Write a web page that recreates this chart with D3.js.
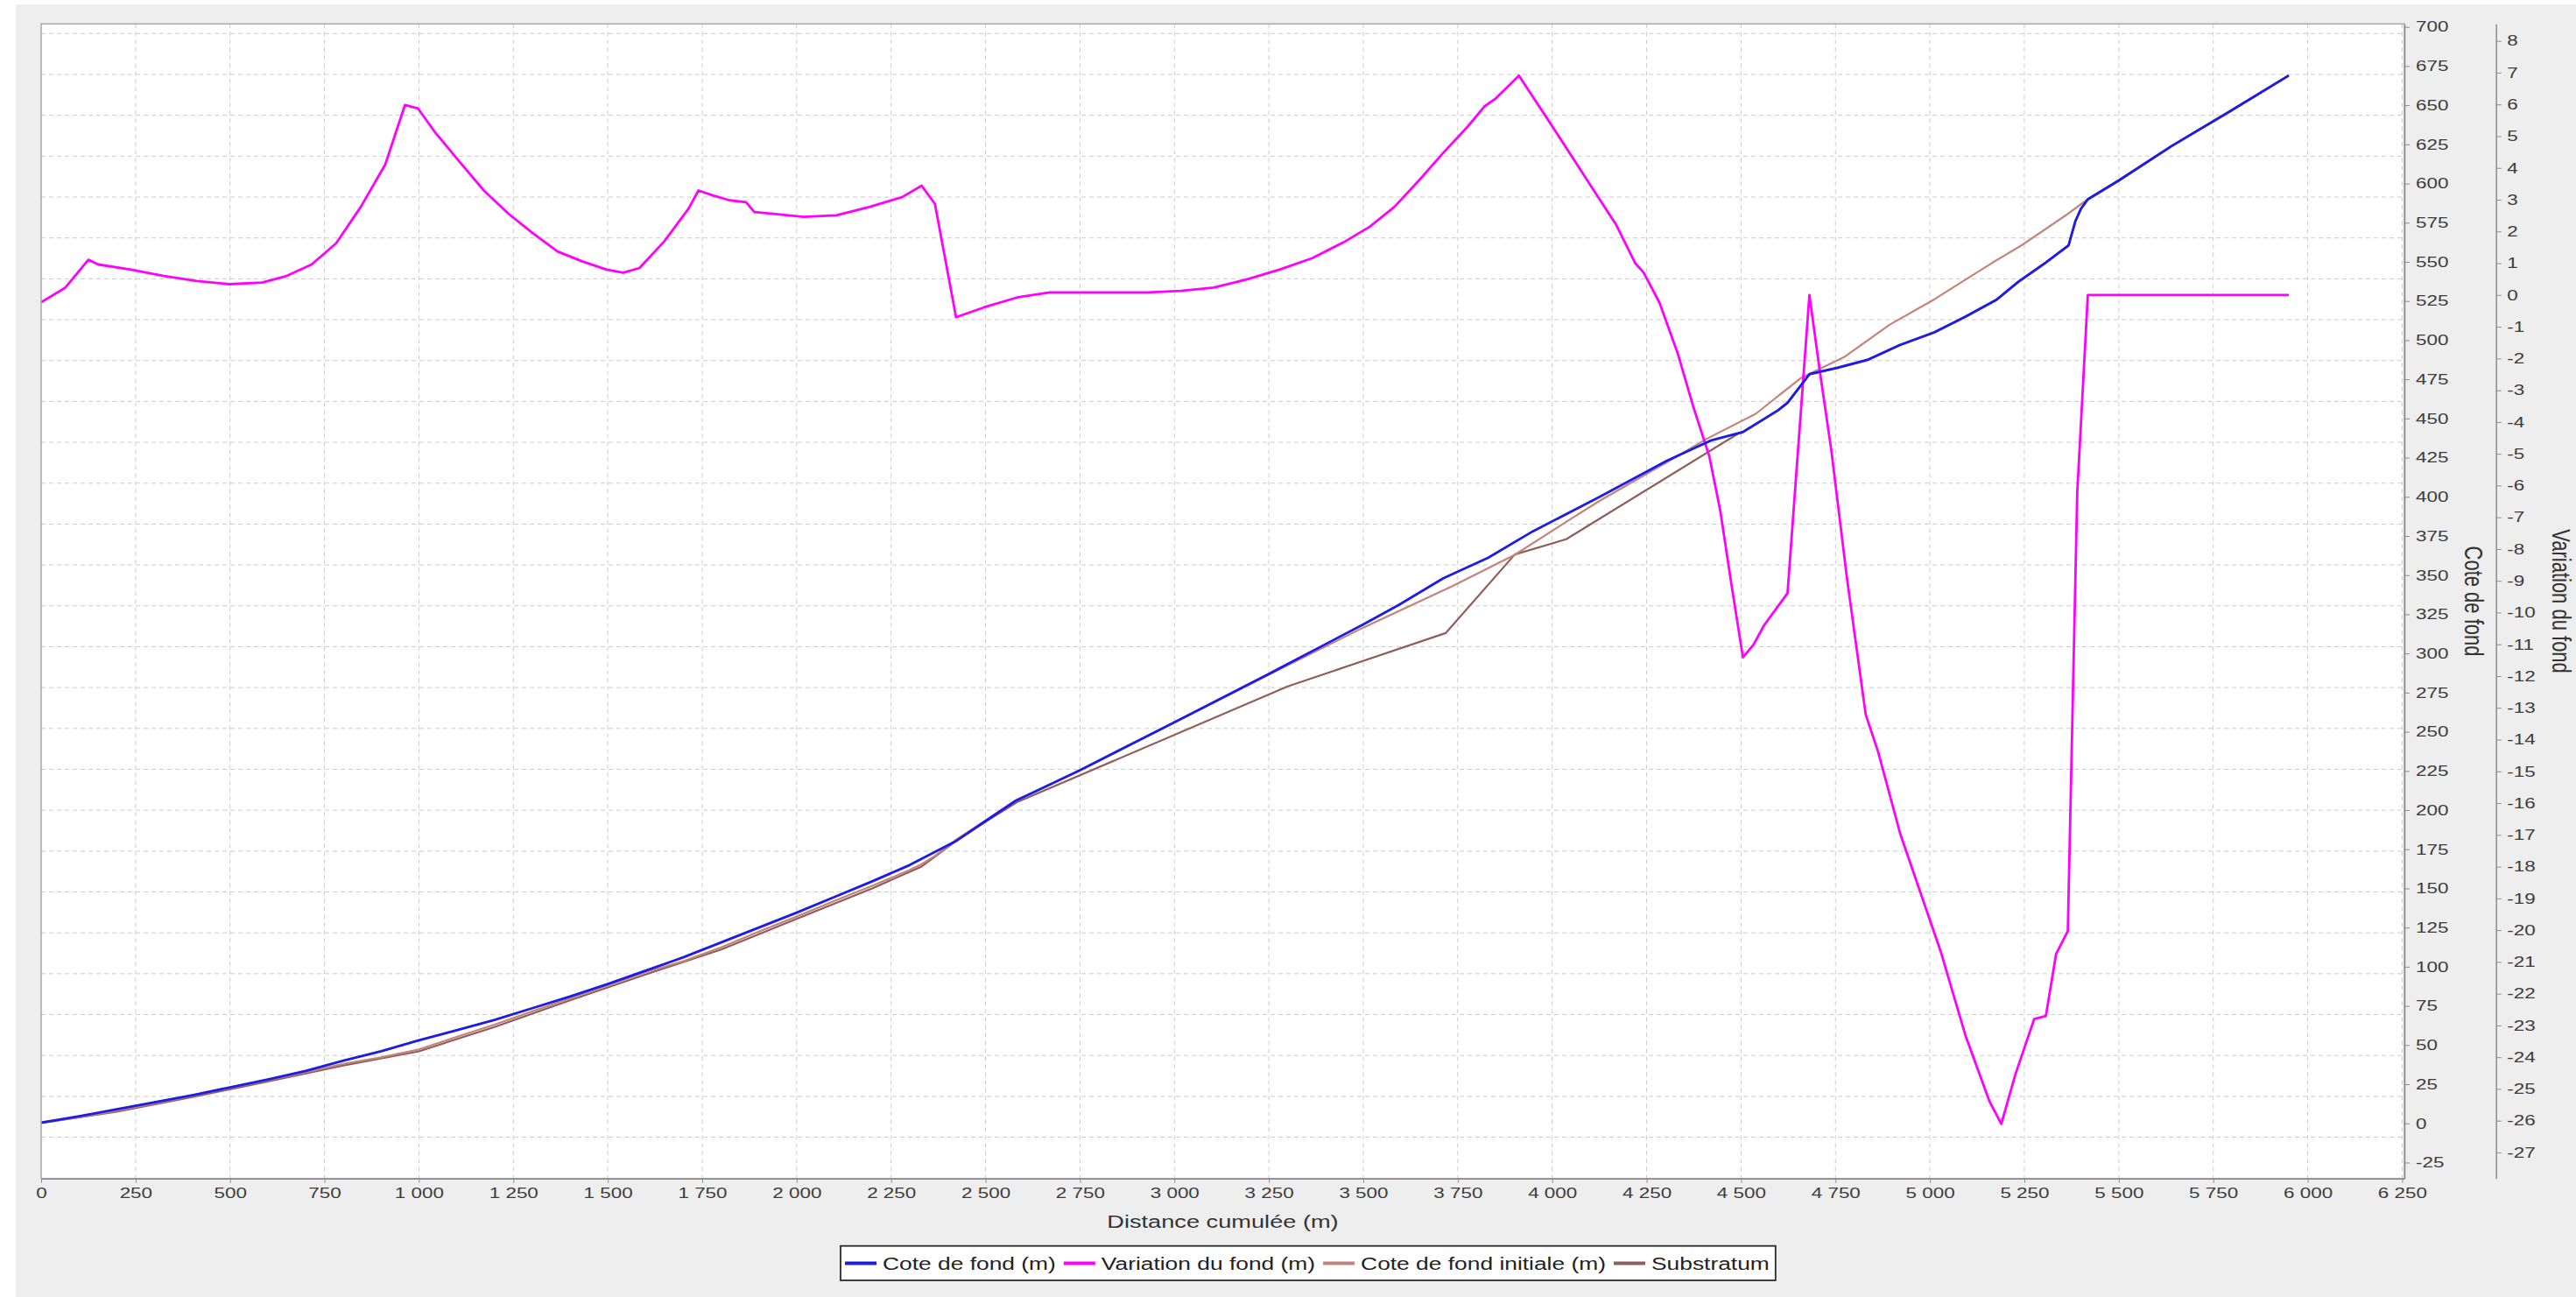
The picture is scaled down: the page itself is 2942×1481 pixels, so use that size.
<!DOCTYPE html>
<html>
<head>
<meta charset="utf-8">
<script src="https://cdn.jsdelivr.net/npm/d3@7"></script>
<style>
  html, body { margin: 0; padding: 0; background: #fff; }
  svg { display: block; font-family: "Liberation Sans", Arial, sans-serif; }
</style>
</head>
<body>
<svg id="chart"></svg>
<script>
// Profil en long : [distance cumulée (m), valeur]
const coteDeFond = [
  [0, 0.5], [100, 4.5], [200, 9], [300, 13.5], [400, 18], [500, 23], [600, 28], [700, 33.5],
  [800, 40], [900, 46], [1000, 53], [1100, 59.5], [1200, 66], [1300, 73.5], [1400, 81],
  [1500, 89], [1600, 97.5], [1700, 106], [1800, 115.5], [1900, 125], [2000, 134.5],
  [2100, 144.5], [2200, 154.5], [2300, 165], [2420, 180], [2500, 193], [2580, 206],
  [2650, 214], [2750, 225.5], [3000, 256], [3250, 287], [3500, 318.5], [3594, 331],
  [3712, 348], [3830, 361], [3949, 378], [4126, 400], [4303, 423], [4421, 436],
  [4504, 441.3], [4556, 449], [4598, 455.3], [4623, 460], [4681, 478.3], [4755, 482.4],
  [4834, 487.4], [4921, 497], [5011, 505], [5094, 515], [5177, 526], [5235, 537.5],
  [5307, 549.6], [5367, 560.6], [5385, 576], [5400, 584], [5418, 590], [5500, 602],
  [5640, 624], [5800, 647], [5950, 669]
];

const variationDuFond = [
  [0, -0.23], [64, 0.23], [125, 1.11], [151, 0.96], [238, 0.8], [325, 0.6], [412, 0.44],
  [498, 0.34], [585, 0.39], [650, 0.6], [716, 0.96], [781, 1.63], [846, 2.77], [911, 4.11],
  [963, 5.98], [998, 5.87], [1041, 5.15], [1106, 4.22], [1172, 3.29], [1237, 2.56],
  [1302, 1.94], [1367, 1.37], [1432, 1.06], [1497, 0.8], [1541, 0.7], [1584, 0.85],
  [1649, 1.68], [1714, 2.72], [1740, 3.29], [1780, 3.13], [1823, 2.98], [1866, 2.92],
  [1888, 2.61], [1932, 2.56], [2018, 2.46], [2105, 2.51], [2192, 2.77], [2279, 3.08],
  [2331, 3.44], [2366, 2.87], [2422, -0.7], [2496, -0.39], [2583, -0.08], [2670, 0.08],
  [2930, 0.08], [3017, 0.13], [3104, 0.23], [3191, 0.49], [3278, 0.8], [3365, 1.16],
  [3451, 1.68], [3517, 2.15], [3582, 2.77], [3647, 3.6], [3712, 4.48], [3777, 5.31],
  [3820, 5.93], [3851, 6.19], [3886, 6.6], [3912, 6.91], [3940, 6.4], [3990, 5.5],
  [4050, 4.4], [4110, 3.3], [4170, 2.2], [4220, 1.0], [4242, 0.71], [4284, -0.24],
  [4333, -1.86], [4375, -3.57], [4416, -5.08], [4445, -6.79], [4474, -9.07], [4505, -11.41],
  [4533, -11.01], [4561, -10.4], [4623, -9.39], [4681, 0.0], [4710, -2.52], [4739, -4.89],
  [4780, -8.88], [4830, -13.21], [4863, -14.39], [4921, -16.95], [4962, -18.37],
  [5028, -20.65], [5094, -23.31], [5158, -25.4], [5189, -26.1], [5226, -24.55],
  [5276, -22.8], [5307, -22.7], [5334, -20.75], [5365, -20.03], [5390, -6.22], [5418, 0],
  [5950, 0]
];

const coteDeFondInitiale = [
  [0, 0.7], [100, 3.75], [200, 8.15], [300, 12.8], [400, 17.5], [500, 22.7], [600, 27.6],
  [700, 32.6], [800, 38], [900, 42.1], [1000, 47.2], [1100, 55.2], [1200, 63], [1300, 71.5],
  [1400, 79.8], [1500, 88.2], [1600, 96.5], [1700, 103.5], [1800, 112.4], [1900, 122.4],
  [2000, 132], [2100, 142], [2200, 151.7], [2300, 161.8], [2331, 165.5], [2366, 170.7],
  [2420, 180.7], [2500, 193.4], [2580, 206.1], [2650, 214], [2750, 225.4], [3000, 255.9],
  [3250, 286.4], [3500, 316.5], [3594, 327], [3736, 343], [3901, 363], [4037, 384],
  [4126, 397.5], [4303, 422], [4409, 437], [4539, 453], [4657, 475.6], [4775, 489.5],
  [4893, 509.8], [5011, 526], [5165, 549.4], [5243, 560.6], [5365, 580.6], [5418, 590],
  [5500, 602], [5640, 624], [5800, 647], [5950, 669]
];

const substratum = [
  [0, 0.2], [200, 7.5], [400, 16.8], [600, 26.8], [800, 37], [1000, 46], [1200, 61.5],
  [1400, 78.5], [1600, 95], [1800, 111], [2000, 130.5], [2200, 150], [2331, 164],
  [2420, 180], [2500, 192.5], [2583, 205], [3300, 279], [3718, 313], [3901, 363.2],
  [4037, 372.9], [4492, 440.3], [4504, 441], [4556, 448.7], [4598, 455], [4623, 459.7],
  [4681, 478], [4755, 482.1], [4834, 487.1], [4921, 496.7], [5011, 504.7], [5094, 514.7],
  [5177, 525.7], [5235, 537.2], [5307, 549.3], [5367, 560.3], [5385, 575.7], [5400, 583.7],
  [5418, 589.7], [5500, 601.7], [5640, 623.7], [5800, 646.7], [5950, 668.7]
];

const seriesNames = ["Cote de fond (m)", "Variation du fond (m)", "Cote de fond initiale (m)", "Substratum"];
const xTicks = d3.range(0, 6251, 250);
const coteTicks = d3.range(-25, 701, 25);
const variationTicks = d3.range(-27, 9, 1);
const gridRows = d3.range(0, 28);

// Mise en page
const W = 2942, H = 1481;
const plot = { left: 47, top: 27.3, right: 2746, bottom: 1345.7 };
const varAxisX = 2850.7;
const SX = 1.36; // étirement horizontal du texte (rendu d'origine)

const fr = d3.formatLocale({ decimal: ",", thousands: " ", grouping: [3], currency: ["", ""], minus: "-" });
const fmtX = fr.format(",d");
const fmtY = fr.format("d");

const x = d3.scaleLinear().domain([0, 6256]).range([plot.left, plot.right]);
const yCote = d3.scaleLinear().domain([-35.2, 701.9]).range([plot.bottom, plot.top]);
const yVar = d3.scaleLinear().domain([-27.82, 8.535]).range([plot.bottom, plot.top]);
// grille horizontale : pas propre au graphique d'origine
const yGrid = d3.scaleLinear().domain([28.01, -0.236]).range([plot.bottom, plot.top]);

const svg = d3.select('#chart').attr('width', W).attr('height', H);

svg.append('rect')
  .attr('x', 18).attr('y', 5).attr('width', W - 18).attr('height', H - 5)
  .attr('fill', '#eeeeee');

svg.append('rect')
  .attr('x', plot.left).attr('y', plot.top)
  .attr('width', plot.right - plot.left).attr('height', plot.bottom - plot.top)
  .attr('fill', '#ffffff');

// Grille
const grid = svg.append('g')
  .attr('stroke', '#cccccc').attr('stroke-width', 1).attr('stroke-dasharray', '5,4');

grid.selectAll('.hgrid').data(gridRows).enter().append('line')
  .attr('class', 'hgrid')
  .attr('x1', plot.left).attr('x2', plot.right)
  .attr('y1', d => yGrid(d)).attr('y2', d => yGrid(d));

grid.selectAll('.vgrid').data(xTicks.slice(1)).enter().append('line')
  .attr('class', 'vgrid')
  .attr('x1', d => x(d)).attr('x2', d => x(d))
  .attr('y1', plot.top).attr('y2', plot.bottom);

// Courbes
const lineCote = d3.line().x(d => x(d[0])).y(d => yCote(d[1]));
const lineVar = d3.line().x(d => x(d[0])).y(d => yVar(d[1]));

const series = [
  { name: seriesNames[3], data: substratum, line: lineCote, color: '#8f5e5a', width: 2.2 },
  { name: seriesNames[2], data: coteDeFondInitiale, line: lineCote, color: '#c2847b', width: 2.2 },
  { name: seriesNames[1], data: variationDuFond, line: lineVar, color: '#ff00ff', width: 2.8 },
  { name: seriesNames[0], data: coteDeFond, line: lineCote, color: '#1c1ce6', width: 2.8 }
];

series.forEach(s => {
  svg.append('path')
    .datum(s.data)
    .attr('fill', 'none')
    .attr('stroke', s.color)
    .attr('stroke-width', s.width)
    .attr('stroke-linejoin', 'round')
    .attr('d', s.line);
});

// Cadre
svg.append('rect')
  .attr('x', plot.left).attr('y', plot.top)
  .attr('width', plot.right - plot.left).attr('height', plot.bottom - plot.top)
  .attr('fill', 'none').attr('stroke', '#a8a8a8').attr('stroke-width', 1.5);

function styleAxis(g, labelX) {
  g.attr('font-size', 16.5).attr('font-family', '"Liberation Sans", Arial, sans-serif');
  g.select('.domain').attr('stroke', '#8c8c8c').attr('stroke-width', 1.5);
  g.selectAll('.tick line').attr('stroke', '#8c8c8c');
  g.selectAll('.tick text').attr('fill', '#3c3c3c').attr('transform', `scale(${SX},1)`);
  if (labelX !== undefined) g.selectAll('.tick text').attr('x', labelX / SX);
}

// Axe X
const gx = svg.append('g')
  .attr('transform', `translate(0,${plot.bottom})`)
  .call(d3.axisBottom(x).tickValues(xTicks).tickFormat(fmtX).tickSize(5).tickSizeOuter(0).tickPadding(6));
styleAxis(gx);

// Axe cote de fond
const gc = svg.append('g')
  .attr('transform', `translate(${plot.right},0)`)
  .call(d3.axisRight(yCote).tickValues(coteTicks).tickFormat(fmtY).tickSize(6).tickSizeOuter(0));
styleAxis(gc, 13);

// Axe variation du fond
const gv = svg.append('g')
  .attr('transform', `translate(${varAxisX},0)`)
  .call(d3.axisRight(yVar).tickValues(variationTicks).tickFormat(fmtY).tickSize(6).tickSizeOuter(0));
styleAxis(gv, 12.5);

// Titres d'axes
svg.append('text')
  .attr('x', ((plot.left + plot.right) / 2) / SX).attr('y', 1401.7)
  .attr('transform', `scale(${SX},1)`)
  .attr('text-anchor', 'middle').attr('font-size', 20).attr('fill', '#333')
  .text('Distance cumulée (m)');

[['Cote de fond', 2825.7], ['Variation du fond', 2925]].forEach(([label, cx]) => {
  svg.append('text')
    .attr('transform', `translate(${cx},${(plot.top + plot.bottom) / 2}) scale(${SX},1) rotate(90)`)
    .attr('text-anchor', 'middle').attr('dominant-baseline', 'central')
    .attr('font-size', 22).attr('fill', '#333')
    .text(label);
});

// Légende
const legendOrder = [series[3], series[2], series[1], series[0]];
const legend = svg.append('g');
const box = legend.append('rect')
  .attr('y', 1422.7).attr('height', 39.3)
  .attr('fill', '#fff').attr('stroke', '#2a2a2a').attr('stroke-width', 1.8);
const ly = 1442.5;
let lx = 965;
legendOrder.forEach((s, i) => {
  legend.append('line')
    .attr('x1', lx).attr('x2', lx + 36).attr('y1', ly).attr('y2', ly)
    .attr('stroke', s.color).attr('stroke-width', 4);
  const t = legend.append('text')
    .attr('x', (lx + 43) / SX).attr('y', ly + 7.3)
    .attr('transform', `scale(${SX},1)`)
    .attr('font-size', 19.4).attr('fill', '#222')
    .text(s.name);
  const w = t.node().getComputedTextLength() * SX;
  lx = lx + 43 + w + (i < legendOrder.length - 1 ? 9 : 0);
});
box.attr('x', 960).attr('width', lx + 7 - 960);
</script>
</body>
</html>
